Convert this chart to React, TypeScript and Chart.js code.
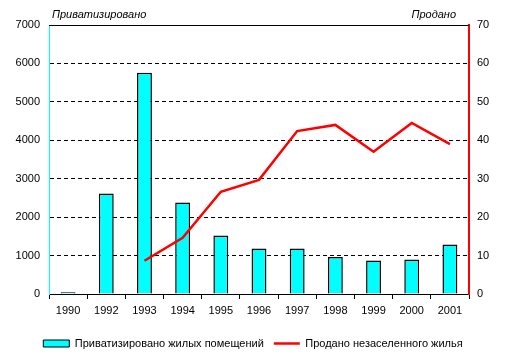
import React, { useEffect, useRef } from "react";
import { Chart, registerables } from "chart.js";

Chart.register(...registerables);

const years = ["1990", "1992", "1993", "1994", "1995", "1996", "1997", "1998", "1999", "2000", "2001"];
const privatized = [45, 2616, 5758, 2382, 1525, 1187, 1187, 961, 875, 901, 1291];
const sold = [null, null, 8.65, 14.6, 26.6, 29.7, 42.4, 44.0, 37.0, 44.5, 39.0];
const barLabel = "Приватизировано жилых помещений";
const lineLabel = "Продано незаселенного жилья";
const leftTitle = "Приватизировано";
const rightTitle = "Продано";

const FONT = '"Liberation Sans", Arial, sans-serif';

const titlesPlugin = {
  id: "titles",
  afterDraw(chart: any) {
    const { ctx, chartArea } = chart;
    ctx.save();
    ctx.strokeStyle = "#000";
    ctx.lineWidth = 1;
    ctx.beginPath();
    ctx.moveTo(chartArea.left, Math.round(chartArea.top) + 0.5);
    ctx.lineTo(chartArea.right, Math.round(chartArea.top) + 0.5);
    ctx.stroke();
    ctx.font = "italic 11px " + FONT;
    ctx.fillStyle = "#000";
    ctx.textBaseline = "alphabetic";
    ctx.textAlign = "left";
    ctx.fillText(leftTitle, 52, 18);
    ctx.textAlign = "right";
    ctx.fillText(rightTitle, 456, 18);
    ctx.restore();
  },
};

export default function App() {
  const ref = useRef<HTMLCanvasElement>(null);
  useEffect(() => {
    const chart = new Chart(ref.current as HTMLCanvasElement, {
      type: "bar",
      data: {
        labels: years,
        datasets: [
          {
            type: "bar",
            label: barLabel,
            data: privatized,
            backgroundColor: "#00FFFF",
            borderColor: "#000",
            borderWidth: 1.5,
            yAxisID: "y",
            categoryPercentage: 1,
            barPercentage: 0.39,
            order: 2,
          } as any,
          {
            type: "line",
            label: lineLabel,
            data: sold,
            borderColor: "#FF0000",
            backgroundColor: "#FF0000",
            borderWidth: 2.5,
            pointRadius: 0,
            tension: 0,
            yAxisID: "y1",
            order: 1,
          } as any,
        ],
      },
      options: {
        responsive: false,
        animation: false,
        layout: { padding: { left: 0, right: 0, top: 25, bottom: 0 } },
        font: { family: FONT, size: 11 },
        plugins: {
          legend: {
            position: "bottom",
            labels: {
              color: "#000",
              font: { family: FONT, size: 11 },
              usePointStyle: true,
              pointStyleWidth: 26,
              boxHeight: 7,
              padding: 10,
              generateLabels: () => [
                {
                  text: barLabel,
                  fillStyle: "#00FFFF",
                  strokeStyle: "#000",
                  lineWidth: 1,
                  pointStyle: "rect",
                  datasetIndex: 0,
                  fontColor: "#000",
                },
                {
                  text: lineLabel,
                  fillStyle: "#FF0000",
                  strokeStyle: "#FF0000",
                  lineWidth: 2.5,
                  pointStyle: "line",
                  datasetIndex: 1,
                  fontColor: "#000",
                },
              ],
            },
          },
          tooltip: { enabled: false },
        },
        scales: {
          x: {
            offset: true,
            grid: {
              offset: true,
              drawOnChartArea: false,
              drawTicks: true,
              tickLength: 5,
              color: "#000",
            },
            border: { display: true, color: "#000", width: 1 },
            ticks: { color: "#000", font: { family: FONT, size: 11 }, padding: 5, maxRotation: 0 },
            afterFit: (s: any) => {
              s.height = 34;
            },
          },
          y: {
            position: "left",
            min: 0,
            max: 7000,
            ticks: {
              stepSize: 1000,
              color: "#000",
              font: { family: FONT, size: 11 },
              padding: 9,
              callback: (v: any) => String(v),
            },
            grid: { color: "#000", lineWidth: 1, drawTicks: false },
            border: { display: true, color: "#00FFFF", width: 1, dash: [4, 3] },
            afterFit: (s: any) => {
              s.width = 49;
            },
          },
          y1: {
            position: "right",
            min: 0,
            max: 70,
            ticks: {
              stepSize: 10,
              color: "#000",
              font: { family: FONT, size: 11 },
              padding: 8,
              callback: (v: any) => String(v),
            },
            grid: { drawOnChartArea: false, drawTicks: false },
            border: { display: true, color: "#FF0000", width: 2 },
            afterFit: (s: any) => {
              s.width = 37;
            },
          },
        },
      } as any,
      plugins: [titlesPlugin],
    });
    return () => chart.destroy();
  }, []);
  return (
    <div style={{ position: "absolute", left: 0, top: 0, width: 506, height: 359, background: "#fff" }}>
      <canvas ref={ref} width={506} height={359} />
    </div>
  );
}
